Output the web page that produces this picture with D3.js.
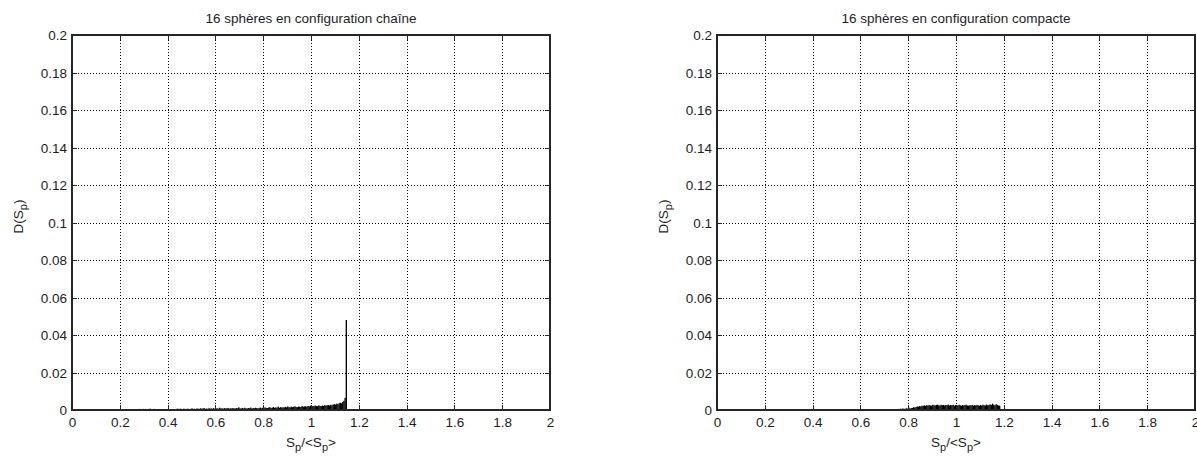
<!DOCTYPE html>
<html>
<head>
<meta charset="utf-8">
<script src="https://cdn.jsdelivr.net/npm/d3@7"></script>
<style>
  html, body { margin: 0; padding: 0; background: #ffffff; }
  svg { display: block; }
  text { font-family: "Liberation Sans", Arial, Helvetica, sans-serif; fill: #1e1e1e; }
</style>
</head>
<body>
<svg id="chart" width="1197" height="457"></svg>
<script>
// ---------------- data ----------------
const titles = ["16 sphères en configuration chaîne", "16 sphères en configuration compacte"];
const xTicks = [0, 0.2, 0.4, 0.6, 0.8, 1, 1.2, 1.4, 1.6, 1.8, 2];
const xTickLabels = ["0", "0.2", "0.4", "0.6", "0.8", "1", "1.2", "1.4", "1.6", "1.8", "2"];
const yTicks = [0, 0.02, 0.04, 0.06, 0.08, 0.1, 0.12, 0.14, 0.16, 0.18, 0.2];
const yTickLabels = ["0", "0.02", "0.04", "0.06", "0.08", "0.1", "0.12", "0.14", "0.16", "0.18", "0.2"];
const binWidth = 0.005;

// chain configuration: bins starting at 0.28
const chainStart = 0.28;
const chainValues = [
  0.0006,0,0.0005,0.0006,0,0.0006,0.0005,0,0.0006,0.0007,0.0005,0,0.0006,0.0005,0,0,0.0005,0,0,0,
  0,0,0,0,0,0,0,0,0,0,0,0.0006,0.0007,0.0005,0.0007,0.0006,0,0.0007,0.0006,0.0005,
  0.0007,0.0006,0,0.0007,0.0008,0.0006,0.0007,0.0005,0.0008,0.0007,0.0006,0.0009,0.0007,0.0008,0.0010,0.0006,0.0008,0.0006,0.0009,0.0008,
  0.0008,0.0007,0.0010,0.0006,0.0008,0.0009,0.0007,0.0012,0.0008,0.0009,0.0007,0.0010,0.0008,0.0009,0.0011,0.0007,0.0009,0.0008,0.0010,0.0009,
  0.0008,0.0010,0.0009,0.0014,0.0009,0.0008,0.0011,0.0008,0.0012,0.0009,0.0008,0.0011,0.0009,0.0013,0.0008,0.0011,0.0009,0.0012,0.0010,0.0009,
  0.0010,0.0013,0.0009,0.0012,0.0010,0.0014,0.0011,0.0010,0.0013,0.0015,0.0011,0.0012,0.0016,0.0011,0.0014,0.0012,0.0018,0.0012,0.0015,0.0013,
  0.0015,0.0013,0.0017,0.0014,0.0019,0.0015,0.0014,0.0018,0.0015,0.0017,0.0020,0.0016,0.0015,0.0019,0.0017,0.0016,0.0021,0.0017,0.0019,0.0020,
  0.0018,0.0021,0.0019,0.0023,0.0019,0.0022,0.0020,0.0024,0.0021,0.0020,0.0025,0.0022,0.0021,0.0024,0.0022,0.0026,0.0023,0.0025,0.0027,0.0024,
  0.0028,0.0025,0.0029,0.0031,0.0029,0.0034,0.0031,0.0036,0.0039,0.0036,0.0043,0.0049,0.0065,0.0480
];

// compact configuration: bins starting at 0.75
const compactStart = 0.75;
const compactValues = [
  0.0005,0.0006,0.0005,0.0007,0.0006,0.0008,0.0006,0.0007,0.0009,0.0007,0.0013,0.0008,0.0010,0.0011,0.0015,0.0013,0.0016,0.0019,0.0017,0.0021,
  0.0019,0.0023,0.0021,0.0025,0.0022,0.0026,0.0023,0.0027,0.0024,0.0023,0.0028,0.0025,0.0024,0.0027,0.0029,0.0025,0.0024,0.0028,0.0025,0.0027,
  0.0024,0.0027,0.0025,0.0029,0.0024,0.0027,0.0025,0.0028,0.0023,0.0026,0.0027,0.0024,0.0028,0.0025,0.0023,0.0027,0.0024,0.0026,0.0028,0.0024,
  0.0023,0.0026,0.0024,0.0027,0.0023,0.0026,0.0024,0.0027,0.0025,0.0023,0.0027,0.0024,0.0028,0.0025,0.0024,0.0029,0.0025,0.0027,0.0030,0.0026,
  0.0034,0.0028,0.0025,0.0031,0.0027,0.0024,0.0023
];

// ---------------- layout ----------------
const panels = [
  { title: titles[0], start: chainStart, values: chainValues, left: 72, right: 550 },
  { title: titles[1], start: compactStart, values: compactValues, left: 717, right: 1195 }
];
const plotTop = 35, plotBottom = 410;
const axisColor = "#262626";
const fontSize = 13.5;

const svg = d3.select("#chart");

panels.forEach(p => {
  const x = d3.scaleLinear().domain([0, 2]).range([p.left, p.right]);
  const y = d3.scaleLinear().domain([0, 0.2]).range([plotBottom, plotTop]);
  const W = p.right - p.left, H = plotBottom - plotTop;
  const g = svg.append("g");

  // grid (dotted)
  const gridX = g.append("g").attr("transform", `translate(0,${plotBottom})`)
    .call(d3.axisBottom(x).tickValues(xTicks).tickSize(-H).tickFormat(""));
  const gridY = g.append("g").attr("transform", `translate(${p.left},0)`)
    .call(d3.axisLeft(y).tickValues(yTicks).tickSize(-W).tickFormat(""));
  [gridX, gridY].forEach(gr => {
    gr.select(".domain").remove();
    gr.selectAll("line").attr("stroke", "#000").attr("stroke-width", 1)
      .attr("stroke-dasharray", "1,2").attr("shape-rendering", "crispEdges");
  });

  // bars
  const bins = p.values.map((v, i) => ({ x0: p.start + i * binWidth, v }));
  g.append("g").selectAll("rect").data(bins.filter(d => d.v > 0)).join("rect")
    .attr("x", d => x(d.x0))
    .attr("width", d => x(d.x0 + binWidth) - x(d.x0) + 0.15)
    .attr("y", d => y(d.v))
    .attr("height", d => y(0) - y(d.v))
    .attr("fill", "#000");

  // axes with inward ticks
  const ax = g.append("g").attr("transform", `translate(0,${plotBottom})`)
    .call(d3.axisBottom(x).tickValues(xTicks).tickSizeInner(-5).tickSizeOuter(0).tickPadding(6)
      .tickFormat((d, i) => xTickLabels[i]));
  const ay = g.append("g").attr("transform", `translate(${p.left},0)`)
    .call(d3.axisLeft(y).tickValues(yTicks).tickSizeInner(-5).tickSizeOuter(0).tickPadding(5)
      .tickFormat((d, i) => yTickLabels[i]));
  const axTop = g.append("g").attr("transform", `translate(0,${plotTop})`)
    .call(d3.axisTop(x).tickValues(xTicks).tickSizeInner(-5).tickSizeOuter(0).tickFormat(""));
  const ayRight = g.append("g").attr("transform", `translate(${p.right},0)`)
    .call(d3.axisRight(y).tickValues(yTicks).tickSizeInner(-5).tickSizeOuter(0).tickFormat(""));
  [ax, ay, axTop, ayRight].forEach(a => {
    a.select(".domain").remove();
    a.selectAll("line").attr("stroke", axisColor).attr("shape-rendering", "crispEdges");
    a.selectAll("text").attr("font-size", fontSize).attr("font-family", null).attr("fill", "#1e1e1e");
  });
  ax.selectAll("text").attr("dy", "0.78em");
  ay.selectAll("text").attr("dy", "0.36em");

  // box
  g.append("rect").attr("x", p.left).attr("y", plotTop).attr("width", W).attr("height", H)
    .attr("fill", "none").attr("stroke", axisColor).attr("stroke-width", 1.4)
    .attr("shape-rendering", "crispEdges");

  // title
  g.append("text").attr("x", (p.left + p.right) / 2).attr("y", 23)
    .attr("text-anchor", "middle").attr("font-size", fontSize).text(p.title);

  // x label S_p/<S_p>
  const xl = g.append("text").attr("x", (p.left + p.right) / 2).attr("y", 447)
    .attr("text-anchor", "middle").attr("font-size", fontSize);
  xl.append("tspan").text("S");
  xl.append("tspan").attr("dy", 4).attr("font-size", 11).text("p");
  xl.append("tspan").attr("dy", -4).text("/<S");
  xl.append("tspan").attr("dy", 4).attr("font-size", 11).text("p");
  xl.append("tspan").attr("dy", -4).text(">");

  // y label D(S_p)
  const yl = g.append("text")
    .attr("transform", `translate(${p.left - 49},${(plotTop + plotBottom) / 2 - 6}) rotate(-90)`)
    .attr("text-anchor", "middle").attr("font-size", fontSize);
  yl.append("tspan").text("D(S");
  yl.append("tspan").attr("dy", 4).attr("font-size", 11).text("p");
  yl.append("tspan").attr("dy", -4).text(")");
});
</script>
</body>
</html>
